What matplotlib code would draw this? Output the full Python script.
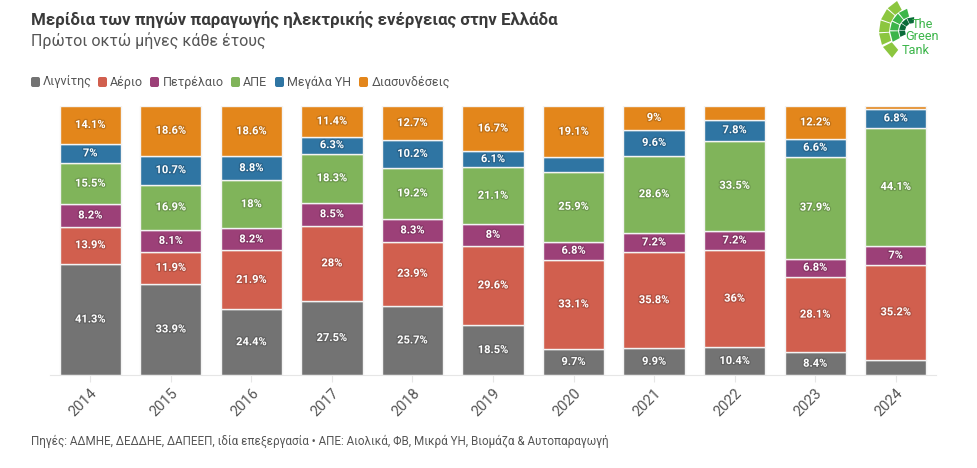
import numpy as np
import matplotlib
matplotlib.use("Agg")
import matplotlib.pyplot as plt
import matplotlib.patheffects as pe
from matplotlib.colors import to_rgb
from matplotlib.patches import FancyBboxPatch, Polygon

plt.rcParams['font.family'] = ['Roboto', 'DejaVu Sans']

years = ["2014", "2015", "2016", "2017", "2018", "2019", "2020", "2021", "2022", "2023", "2024"]
lignite = [41.3, 33.9, 24.4, 27.5, 25.7, 18.5, 9.7, 9.9, 10.4, 8.4, 5.7]
gas = [13.9, 11.9, 21.9, 28, 23.9, 29.6, 33.1, 35.8, 36, 28.1, 35.2]
oil = [8.2, 8.1, 8.2, 8.5, 8.3, 8, 6.8, 7.2, 7.2, 6.8, 7]
res = [15.5, 16.9, 18, 18.3, 19.2, 21.1, 25.9, 28.6, 33.5, 37.9, 44.1]
hydro = [7, 10.7, 8.8, 6.3, 10.2, 6.1, 5.4, 9.6, 7.8, 6.6, 6.8]
imports = [14.1, 18.6, 18.6, 11.4, 12.7, 16.7, 19.1, 9, 5.1, 12.2, 1.2]

series = [lignite, gas, oil, res, hydro, imports]
names = ["Λιγνίτης", "Αέριο", "Πετρέλαιο", "ΑΠΕ", "Μεγάλα ΥΗ", "Διασυνδέσεις"]
colors = ["#737373", "#d15f4e", "#9c4078", "#80b45a", "#2f75a3", "#e3861b"]

W, H = 978, 468
fig = plt.figure(figsize=(W / 100, H / 100), dpi=100)

# main axes placed in pixels
left, right, top, base = 50, 936, 106, 375
ax = fig.add_axes([left / W, 1 - base / H, (right - left) / W, (base - top) / H])

x = np.arange(len(years))
bottom = np.zeros(len(years))
for vals, col in zip(series, colors):
    vals = np.array(vals, dtype=float)
    ax.bar(x, vals, 0.76, bottom=bottom, color=col, edgecolor="#f4f4f4", linewidth=1)
    halo = tuple(c * 0.85 for c in to_rgb(col))
    for xi, b, v in zip(x, bottom, vals):
        if v < 6:  # too small, no label in the original
            continue
        ax.text(xi, b + v / 2, f"{v:g}%", ha="center", va="center", color="white",
                fontsize=8, fontweight="bold",
                path_effects=[pe.withStroke(linewidth=1.8, foreground=halo)])
    bottom += vals

ax.set_xlim(-0.5, len(years) - 0.5)
ax.set_ylim(0, 100)
ax.set_yticks([])
ax.set_xticks(x)
ax.set_xticklabels(years, rotation=45, ha="right", rotation_mode="anchor", fontsize=10.5, color="#555555")
ax.tick_params(axis="x", length=5, color="#e6e6e6", pad=3)
for s in ["top", "left", "right"]:
    ax.spines[s].set_visible(False)
ax.spines["bottom"].set_color("#e6e6e6")

# overlay in pixel coords for the header, legend and logo
ov = fig.add_axes([0, 0, 1, 1], zorder=5)
ov.set_xlim(0, W)
ov.set_ylim(H, 0)
ov.axis("off")

ov.text(31, 20, "Μερίδια των πηγών παραγωγής ηλεκτρικής ενέργειας στην Ελλάδα",
        fontsize=12.2, fontweight="bold", color="#3a3a3a", va="center")
ov.text(31, 41, "Πρώτοι οκτώ μήνες κάθε έτους", fontsize=11.5, color="#555555", va="center")

sq_x = [31, 98, 150, 231, 275, 359]
txt_x = [43, 110, 163, 243, 287, 372]
for sx, tx, name, col in zip(sq_x, txt_x, names, colors):
    ov.add_patch(FancyBboxPatch((sx + 2, 79), 5, 6, boxstyle="round,pad=2", fc=col, ec="none"))
    ov.text(tx, 82, name, fontsize=9, color="#555555", va="center")

ov.text(31, 441, "Πηγές: ΑΔΜΗΕ, ΔΕΔΔΗΕ, ΔΑΠΕΕΠ, ιδία επεξεργασία • ΑΠΕ: Αιολικά, ΦΒ, Μικρά ΥΗ, Βιομάζα & Αυτοπαραγωγή",
        fontsize=8.37, color="#555555", va="center")

# logo, fan of small cells
cx, cy = 913, 31
rings = [
    (24, 34, [(118, 138), (140, 160), (162, 182), (184, 204), (208, 232)], "#8cc63f"),
    (15, 23, [(105, 128), (131, 153), (156, 178), (181, 208)], "#3cb54a"),
    (8, 14, [(85, 115), (118, 145), (148, 175), (178, 205)], "#0b6b3a"),
]
for r0, r1, spans, col in rings:
    for a0, a1 in spans:
        ang = np.radians([a0, a1, a1, a0])
        rad = [r1, r1, r0, r0]
        pts = np.column_stack([cx + np.array(rad) * np.cos(ang), cy - np.array(rad) * np.sin(ang)])
        ov.add_patch(Polygon(pts, closed=True, fc=col, ec="none"))
for tx, ty, word in [(912, 24, "The"), (905, 37, "Green"), (902, 50, "Tank")]:
    ov.text(tx, ty, word, fontsize=9.2, color="#3cb54a", va="center")

fig.savefig("out.png", dpi=100)
